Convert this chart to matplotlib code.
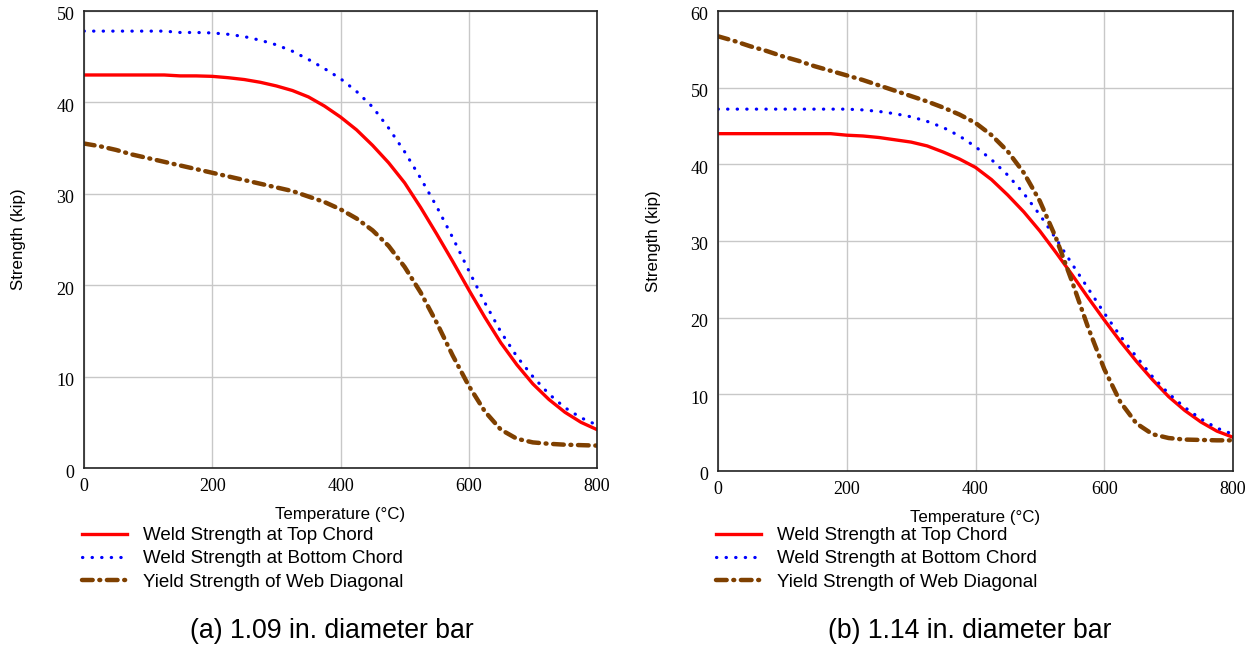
import numpy as np
import matplotlib
matplotlib.use("Agg")
import matplotlib.pyplot as plt
from matplotlib.transforms import ScaledTranslation

SANS = "Liberation Sans"
SERIF = "Liberation Serif"
RED = "#ff0000"
BLUE = "#0000ff"
BROWN = "#7f4000"

temps = list(range(0, 801, 25))

# (a) 1.09 in. diameter bar
top_a = [43.0, 43.0, 43.0, 43.0, 43.0, 43.0, 42.9, 42.9, 42.85, 42.7, 42.5, 42.2, 41.8,
         41.3, 40.6, 39.6, 38.4, 37.0, 35.3, 33.4, 31.2, 28.5, 25.6, 22.6, 19.5, 16.5,
         13.7, 11.3, 9.2, 7.5, 6.1, 5.0, 4.2]
bottom_a = [47.8, 47.8, 47.8, 47.8, 47.8, 47.8, 47.65, 47.65, 47.6, 47.45, 47.2, 46.8, 46.3,
            45.6, 44.7, 43.7, 42.6, 41.2, 39.5, 37.2, 34.6, 31.7, 28.6, 25.2, 21.6, 18.1,
            14.9, 12.2, 10.0, 8.1, 6.6, 5.5, 4.7]
web_a = [35.5, 35.2, 34.8, 34.3, 33.9, 33.5, 33.1, 32.7, 32.3, 31.9, 31.5, 31.1, 30.7,
         30.3, 29.7, 29.1, 28.3, 27.3, 26.0, 24.3, 22.0, 19.2, 15.9, 12.3, 9.0, 6.2,
         4.2, 3.2, 2.8, 2.65, 2.55, 2.5, 2.45]

# (b) 1.14 in. diameter bar
top_b = [44.0, 44.0, 44.0, 44.0, 44.0, 44.0, 44.0, 44.0, 43.8, 43.7, 43.5, 43.2, 42.9,
         42.4, 41.6, 40.7, 39.6, 38.0, 36.0, 33.8, 31.3, 28.5, 25.6, 22.6, 19.7, 16.9,
         14.3, 11.9, 9.7, 7.9, 6.4, 5.2, 4.4]
bottom_b = [47.2, 47.2, 47.2, 47.2, 47.2, 47.2, 47.2, 47.2, 47.2, 47.1, 46.9, 46.6, 46.2,
            45.6, 44.8, 43.7, 42.3, 40.6, 38.6, 36.2, 33.4, 30.3, 27.0, 23.8, 20.6, 17.6,
            14.9, 12.3, 10.1, 8.3, 6.8, 5.6, 4.8]
web_b = [56.7, 56.1, 55.4, 54.8, 54.1, 53.5, 52.8, 52.2, 51.6, 51.0, 50.3, 49.6, 48.9,
         48.2, 47.4, 46.5, 45.4, 43.8, 41.7, 38.9, 35.2, 30.4, 24.7, 18.7, 13.3, 9.0,
         6.2, 4.8, 4.3, 4.1, 4.05, 4.0, 4.0]

labels = ["Weld Strength at Top Chord", "Weld Strength at Bottom Chord",
          "Yield Strength of Web Diagonal"]
captions = ["(a) 1.09 in. diameter bar", "(b) 1.14 in. diameter bar"]
y_limits = [50, 60]


def draw_panel(fig, ax, top, bottom, web, ymax, ylabel_x):
    ax.plot(temps, top, color=RED, lw=2.4, label=labels[0])
    ax.plot(temps, bottom, color=BLUE, lw=2.3, linestyle=(0, (0.1, 2.9)),
            dash_capstyle="round", label=labels[1])
    ax.plot(temps, web, color=BROWN, lw=3.2, linestyle=(0, (2.4, 1.5, 0.2, 1.5)),
            dash_capstyle="round", label=labels[2])
    ax.set_xlim(0, 800)
    ax.set_ylim(0, ymax)
    ax.set_xticks(range(0, 801, 200))
    ax.set_yticks(range(0, ymax + 1, 10))
    ax.grid(True, color="#c8c8c8", lw=1.0)
    ax.set_axisbelow(True)
    ax.tick_params(length=0, pad=7, labelsize=13)
    nudge = ScaledTranslation(0, -3 / 100, fig.dpi_scale_trans)
    for lab in ax.get_xticklabels() + ax.get_yticklabels():
        lab.set_fontfamily(SERIF)
    for lab in ax.get_yticklabels():
        lab.set_transform(lab.get_transform() + nudge)
    for spine in ax.spines.values():
        spine.set_linewidth(1.2)
        spine.set_color("#222222")
    ax.set_xlabel("Temperature (°C)", fontfamily=SANS, fontsize=12.2, labelpad=9)
    ax.set_ylabel("Strength (kip)", fontfamily=SANS, fontsize=12.2)
    ax.yaxis.set_label_coords(ylabel_x, 0.5)


fig = plt.figure(figsize=(12.56, 6.46), dpi=100)
ax_a = fig.add_axes([84 / 1256, 1 - 468 / 646, 513 / 1256, 457 / 646])
ax_b = fig.add_axes([718 / 1256, 1 - 471 / 646, 515 / 1256, 460 / 646])

draw_panel(fig, ax_a, top_a, bottom_a, web_a, y_limits[0], -0.113)
draw_panel(fig, ax_b, top_b, bottom_b, web_b, y_limits[1], -0.111)

for ax, x0, cx, cap in [(ax_a, 82, 332, captions[0]), (ax_b, 716, 970, captions[1])]:
    ax.legend(loc="upper left", bbox_to_anchor=(x0 / 1256, 1 - 527 / 646),
              bbox_transform=fig.transFigure, frameon=False, borderpad=0,
              borderaxespad=0, handlelength=2.4, handletextpad=0.85,
              labelspacing=0.33, prop={"family": SANS, "size": 13.5})
    fig.text(cx / 1256, 1 - 631 / 646, cap, ha="center", va="center",
             fontfamily=SANS, fontsize=19.2)

fig.savefig("out.png", dpi=100)
